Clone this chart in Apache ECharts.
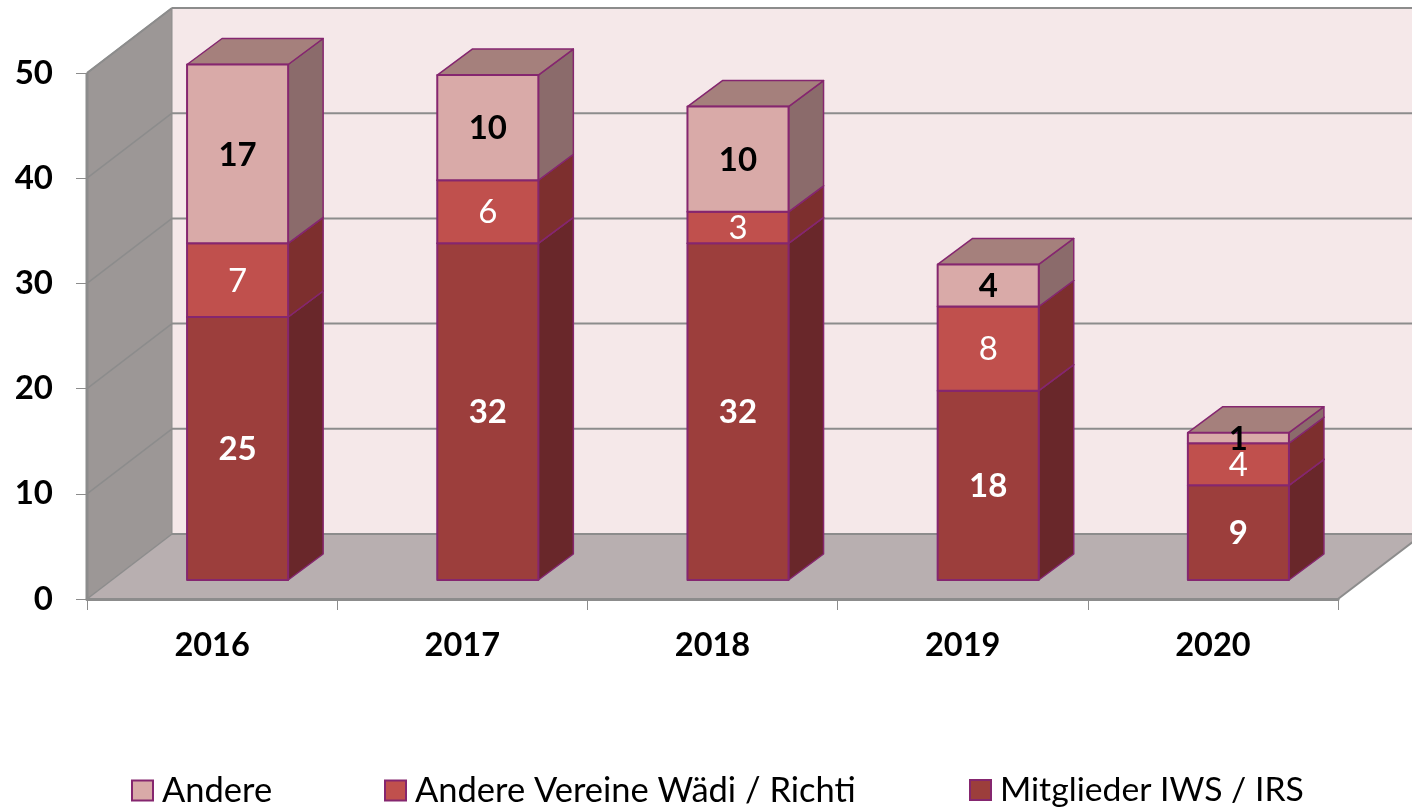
<!DOCTYPE html>
<html lang="de">
<head>
    <meta charset="utf-8">
    <title>Teilnehmer</title>
    <style>
        html, body {margin: 0; padding: 0; background: #fff;}
        #chart {width: 1412px; height: 808px;}
    </style>
</head>
<body>
<div id="chart"></div>
<script src="https://cdn.jsdelivr.net/npm/echarts@6/dist/echarts.min.js"></script>
<script>
    const categories = ['2016', '2017', '2018', '2019', '2020'];
    const tickValues = [0, 10, 20, 30, 40, 50];
    const mitglieder = [25, 32, 32, 18, 9];
    const vereine = [7, 6, 3, 8, 4];
    const andere = [17, 10, 10, 4, 1];

    const FONT = 'Lato';
    const BORDER = '#85266f';
    const GRID_LINE = '#8c8c8c';

    // 3D Tiefe der Wand und der Balken, in Pixel
    const WALL_DX = 85, WALL_DY = -65;
    const BAR_SHIFT_X = 25.5, BAR_SHIFT_Y = -19;
    const BAR_DX = 35, BAR_DY = -26;

    function poly(points, fill, stroke, lineWidth) {
        return {
            type: 'polygon',
            shape: {points: points},
            style: {fill: fill, stroke: stroke || null, lineWidth: lineWidth || 0, lineJoin: 'round'}
        };
    }

    function line(x1, y1, x2, y2, width) {
        return {
            type: 'line',
            shape: {x1: x1, y1: y1, x2: x2, y2: y2},
            style: {stroke: GRID_LINE, lineWidth: width || 2}
        };
    }

    // Wände und Boden
    function renderWalls(params, api) {
        const x0 = api.coord([0, 0]);
        const top = api.coord([0, 50])[1];
        const sys = params.coordSys;
        const left = sys.x, right = sys.x + sys.width, bottom = x0[1];
        return {
            type: 'group',
            children: [
                poly([[left + WALL_DX, top + WALL_DY], [right + WALL_DX, top + WALL_DY],
                    [right + WALL_DX, bottom + WALL_DY], [left + WALL_DX, bottom + WALL_DY]], '#f5e8e9'),
                poly([[left, top], [left + WALL_DX, top + WALL_DY],
                    [left + WALL_DX, bottom + WALL_DY], [left, bottom]], '#9c9796'),
                poly([[left, bottom], [right, bottom],
                    [right + WALL_DX, bottom + WALL_DY], [left + WALL_DX, bottom + WALL_DY]], '#b8afb0'),
                line(left, top, left, bottom, 3),
                line(left, top, left + WALL_DX, top + WALL_DY, 2),
                line(left + WALL_DX, top + WALL_DY, left + WALL_DX, bottom + WALL_DY, 1),
                line(left, bottom, left + WALL_DX, bottom + WALL_DY, 1.5),
                line(right, bottom, right + WALL_DX, bottom + WALL_DY, 2)
            ]
        };
    }

    // Gitterlinien auf Wand und Rückwand
    function renderGridLine(params, api) {
        const p = api.coord([0, api.value(1)]);
        const sys = params.coordSys;
        const left = sys.x, right = sys.x + sys.width;
        if (api.value(1) === 0) {
            return {
                type: 'group',
                children: [line(left + WALL_DX, p[1] + WALL_DY, right + WALL_DX, p[1] + WALL_DY, 2)]
            };
        }
        return {
            type: 'group',
            children: [
                line(left, p[1], left + WALL_DX, p[1] + WALL_DY, 1.5),
                line(left + WALL_DX, p[1] + WALL_DY, right + WALL_DX, p[1] + WALL_DY, 2)
            ]
        };
    }

    // ein Balkensegment: Front, Seite, Deckel und Wert
    function makeBarRenderer(colors, labelColor, labelWeight) {
        return function (params, api) {
            const idx = api.value(0);
            const value = api.value(1);
            const base = api.value(2);
            const low = api.coord([idx, base]);
            const high = api.coord([idx, base + value]);
            const w = api.size([1, 0])[0] * 0.404;
            const x1 = low[0] + BAR_SHIFT_X - w / 2;
            const x2 = x1 + w;
            const y1 = low[1] + BAR_SHIFT_Y;
            const y2 = high[1] + BAR_SHIFT_Y;
            return {
                type: 'group',
                children: [
                    poly([[x2, y1], [x2 + BAR_DX, y1 + BAR_DY], [x2 + BAR_DX, y2 + BAR_DY], [x2, y2]],
                        colors.side, BORDER, 1.5),
                    poly([[x1, y2], [x2, y2], [x2 + BAR_DX, y2 + BAR_DY], [x1 + BAR_DX, y2 + BAR_DY]],
                        colors.top, BORDER, 1.5),
                    poly([[x1, y1], [x2, y1], [x2, y2], [x1, y2]], colors.front, BORDER, 2),
                    {
                        type: 'text',
                        z2: 10,
                        style: {
                            text: String(value),
                            x: (x1 + x2) / 2,
                            y: (y1 + y2) / 2 + 1,
                            align: 'center',
                            verticalAlign: 'middle',
                            fill: labelColor,
                            fontFamily: FONT,
                            fontWeight: labelWeight,
                            fontSize: 33
                        }
                    }
                ]
            };
        };
    }

    function stackData(values, below) {
        return values.map(function (v, i) {
            let base = 0;
            below.forEach(function (b) { base += b[i]; });
            return [i, v, base];
        });
    }

    function legendAt(left, name, fontSize) {
        return {
            left: left,
            top: 768,
            icon: 'rect',
            itemWidth: 21,
            itemHeight: 20,
            selectedMode: false,
            data: [name],
            textStyle: {fontFamily: FONT, fontSize: fontSize, color: '#000', padding: [0, 0, 2, 4]}
        };
    }

    const colorsMitglieder = {front: '#9c3e3c', side: '#69272a', top: '#7d3230'};
    const colorsVereine = {front: '#c0504d', side: '#7d2f2e', top: '#8c3a38'};
    const colorsAndere = {front: '#d9aaa8', side: '#8b6b6b', top: '#a5807c'};

    const chart = echarts.init(document.getElementById('chart'));
    chart.setOption({
        animation: false,
        backgroundColor: '#fff',
        textStyle: {fontFamily: FONT},
        grid: {left: 87, right: 74, top: 73, bottom: 209},
        legend: [
            legendAt(126, 'Andere', 34.5),
            legendAt(379, 'Andere Vereine Wädi / Richti', 34.5),
            legendAt(964, 'Mitglieder IWS / IRS', 33.7)
        ],
        xAxis: {
            type: 'category',
            data: categories,
            z: 5,
            axisLine: {lineStyle: {color: GRID_LINE, width: 3}},
            axisTick: {show: true, alignWithLabel: false, length: 11, lineStyle: {color: GRID_LINE, width: 1}},
            axisLabel: {color: '#000', fontFamily: FONT, fontWeight: 'bold', fontSize: 32.5, margin: 30}
        },
        yAxis: {
            type: 'value',
            min: 0,
            max: 50,
            interval: 10,
            z: 5,
            axisLine: {show: false},
            axisTick: {show: true, length: 11, lineStyle: {color: GRID_LINE, width: 1}},
            splitLine: {show: false},
            axisLabel: {color: '#000', fontFamily: FONT, fontWeight: 'bold', fontSize: 33, margin: 34}
        },
        series: [
            {
                name: 'walls',
                type: 'custom',
                z: 1,
                silent: true,
                data: [[0, 0]],
                encode: {x: 0, y: 1},
                renderItem: renderWalls
            },
            {
                name: 'gridlines',
                type: 'custom',
                z: 1,
                silent: true,
                data: tickValues.map(function (t) { return [0, t]; }),
                encode: {x: 0, y: 1},
                renderItem: renderGridLine
            },
            {
                name: 'Mitglieder IWS / IRS',
                type: 'custom',
                z: 2,
                itemStyle: {color: colorsMitglieder.front, borderColor: BORDER, borderWidth: 1},
                data: stackData(mitglieder, []),
                encode: {x: 0, y: 1},
                renderItem: makeBarRenderer(colorsMitglieder, '#fff', 'bold')
            },
            {
                name: 'Andere Vereine Wädi / Richti',
                type: 'custom',
                z: 3,
                itemStyle: {color: colorsVereine.front, borderColor: BORDER, borderWidth: 1},
                data: stackData(vereine, [mitglieder]),
                encode: {x: 0, y: 1},
                renderItem: makeBarRenderer(colorsVereine, '#fff', 'normal')
            },
            {
                name: 'Andere',
                type: 'custom',
                z: 4,
                itemStyle: {color: colorsAndere.front, borderColor: BORDER, borderWidth: 1},
                data: stackData(andere, [mitglieder, vereine]),
                encode: {x: 0, y: 1},
                renderItem: makeBarRenderer(colorsAndere, '#000', 'bold')
            }
        ]
    });
</script>
</body>
</html>
